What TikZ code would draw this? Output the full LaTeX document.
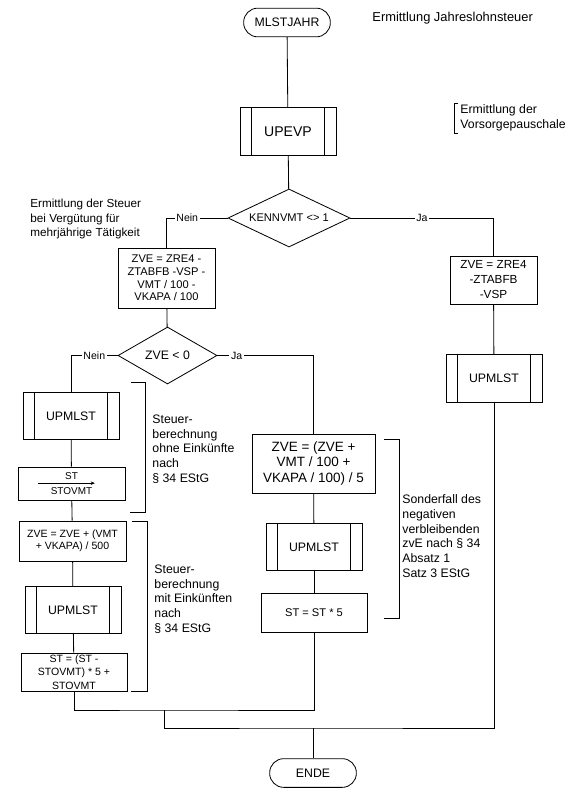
\documentclass[tikz,border=0pt]{standalone}
\usepackage{fontspec}
\setmainfont{Liberation Sans}
\usetikzlibrary{shapes.geometric,arrows.meta}

\begin{document}
\begin{tikzpicture}[x=0.3mm,y=-0.3mm,line width=0.7pt,>={Stealth[length=3.5pt,width=3pt]},
  box/.style={draw,align=center,inner sep=1pt,font=\fontsize{9.5}{11}\selectfont},
  upro/.style={draw,minimum width=28.8mm,minimum height=14.2mm,
    font=\fontsize{10.5}{12}\selectfont,
    path picture={
      \draw ([xshift=3.5mm]path picture bounding box.north west)
         -- ([xshift=3.5mm]path picture bounding box.south west);
      \draw ([xshift=-3.5mm]path picture bounding box.north east)
         -- ([xshift=-3.5mm]path picture bounding box.south east);}},
  term/.style={draw,rounded corners=4.2mm,minimum width=26mm,minimum height=8.6mm,
    font=\fontsize{10.5}{12}\selectfont},
  frage/.style={draw,diamond,inner sep=0pt,font=\fontsize{9.5}{11}\selectfont},
  lbl/.style={fill=white,inner sep=1.5pt,font=\fontsize{9}{10}\selectfont},
  notiz/.style={anchor=west,align=left,inner sep=0pt,font=\fontsize{10.5}{12.6}\selectfont}]

  \useasboundingbox (0,0) rectangle (569,794);

  % Start
  \node[term] (mlst) at (287,22.5) {MLSTJAHR};
  \node[notiz,font=\fontsize{11}{13}\selectfont] (titel) at (372,18) {Ermittlung Jahreslohnsteuer};

  \node[upro,font=\fontsize{12}{14}\selectfont] (upevp) at (288,131.5) {UPEVP};
  \node[notiz] (vsp) at (460,117.5) {Ermittlung der\\Vorsorgepauschale};
  \draw[line width=0.5pt] (458,103) -- (454,103) -- (454,133) -- (458,133);

  % Verzweigung KENNVMT
  \node[frage,minimum width=36.6mm,minimum height=17.4mm,aspect=2.1] (kenn) at (289,218) {KENNVMT <> 1};
  \node[notiz,font=\fontsize{10}{12}\selectfont] (mehrj) at (30,219)
    {Ermittlung der Steuer\\bei Vergütung für\\mehrjährige Tätigkeit};

  \node[box,minimum width=29.1mm,minimum height=18mm,font=\fontsize{9.5}{10.8}\selectfont] (zrel) at (166.5,278)
    {ZVE = ZRE4 -\\ZTABFB -VSP -\\VMT / 100 -\\VKAPA / 100};
  \node[box,minimum width=26.1mm,minimum height=14.4mm,font=\fontsize{10}{12.8}\selectfont] (zrer) at (493.5,280)
    {ZVE = ZRE4\\-ZTABFB\\-VSP};

  % Verzweigung ZVE < 0
  \node[frage,minimum width=29.7mm,minimum height=17.1mm,aspect=1.74,
    font=\fontsize{10.5}{12}\selectfont] (zvelt) at (167.5,355.5) {ZVE < 0};

  % rechter Zweig
  \node[upro] (upr) at (494,378.5) {UPMLST};

  % linker Zweig
  \node[upro] (upl) at (71,416) {UPMLST};
  \node[box,minimum width=32.1mm,minimum height=9.9mm,font=\fontsize{8.5}{13.5}\selectfont] (stovmt) at (71.5,483.5)
    {ST\\STOVMT};
  \draw[->,line width=0.5pt] ([xshift=-10mm,yshift=0.1mm]stovmt.center) -- ([xshift=7mm,yshift=0.1mm]stovmt.center);
  \node[box,minimum width=32.1mm,minimum height=12mm,font=\fontsize{9}{10.5}\selectfont] (zvevmt) at (72.5,541)
    {ZVE = ZVE + (VMT\\+ VKAPA) / 500};
  \node[upro] (upl2) at (73,610) {UPMLST};
  \node[box,minimum width=31.8mm,minimum height=11.4mm,font=\fontsize{9}{11.3}\selectfont] (stl) at (74,672)
    {ST = (ST -\\STOVMT) * 5 +\\STOVMT};

  \node[notiz] (ohne) at (152,449) {Steuer-\\berechnung\\ohne Einkünfte\\nach\\§ 34 EStG};
  \draw[line width=0.5pt] (131,382) -- (145,382) -- (145,512) -- (130,512);
  \node[notiz] (mit) at (154,599) {Steuer-\\berechnung\\mit Einkünften\\nach\\§ 34 EStG};
  \draw[line width=0.5pt] (132,521) -- (147,521) -- (147,691) -- (131,691);

  % mittlerer Zweig
  \node[box,minimum width=36.9mm,minimum height=17.7mm,font=\fontsize{11.5}{13.6}\selectfont] (zvec) at (313.5,463.5)
    {ZVE = (ZVE +\\VMT / 100 +\\VKAPA / 100) / 5};
  \node[upro] (upm) at (314,547) {UPMLST};
  \node[box,minimum width=31.8mm,minimum height=11.7mm] (stm) at (314,612.5) {ST = ST * 5};

  \node[notiz] (sonder) at (402,536)
    {Sonderfall des\\negativen\\verbleibenden\\zvE nach § 34\\Absatz 1\\Satz 3 EStG};
  \draw[line width=0.5pt] (384,439) -- (399,439) -- (399,618) -- (384,618);

  % Ende
  \node[term] (ende) at (313,773) {ENDE};
  \coordinate (m1) at (164,710);
  \coordinate (m2) at (313,728);

  % Verbindungen
  \draw (mlst) -- (upevp);
  \draw (upevp) -- (kenn);
  \draw (kenn.west) -| node[lbl,pos=0.33] {Nein} (zrel.north);
  \draw (kenn.east) -| node[lbl,pos=0.25] {Ja} (zrer.north);
  \draw (zrel) -- (zvelt);
  \draw (zvelt.west) -| node[lbl,pos=0.25] {Nein} (upl.north);
  \draw (zvelt.east) -| node[lbl,pos=0.1] {Ja} (zvec.north);
  \draw (zrer) -- (upr);
  \draw (upl) -- (stovmt);
  \draw (stovmt) -- (zvevmt);
  \draw (zvevmt) -- (upl2);
  \draw (upl2) -- (stl);
  \draw (zvec) -- (upm);
  \draw (upm) -- (stm);
  \draw (stl.south) |- (m1) -| (stm.south);
  \draw (m1) |- (m2) -| (upr.south);
  \draw (m2) -- (ende);

\end{tikzpicture}
\end{document}
